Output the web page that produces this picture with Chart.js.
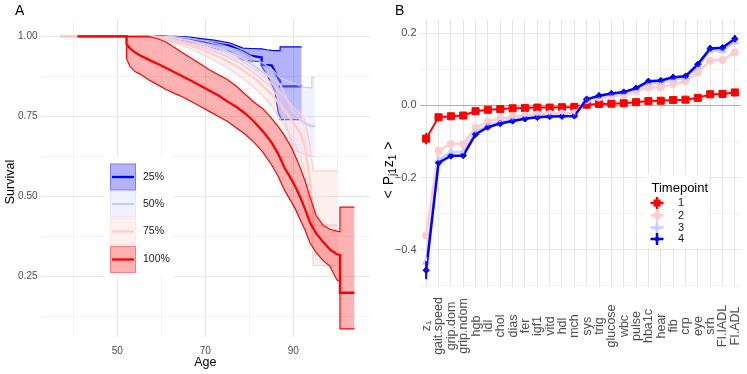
<!DOCTYPE html>
<html>
<head>
<meta charset="utf-8">
<script src="https://cdn.jsdelivr.net/npm/chart.js@4.4.1/dist/chart.umd.min.js"></script>
<style>
  html, body { margin: 0; padding: 0; background: #fff; }
  #wrap { position: relative; width: 747px; height: 374px; }
  canvas { position: absolute; top: 0; }
  #chartA { left: 0; }
  #chartB { left: 373px; }
</style>
</head>
<body>
<div id="wrap">
  <canvas id="chartA" width="373" height="374"></canvas>
  <canvas id="chartB" width="374" height="374"></canvas>
</div>
<script>
var FONT = 'Liberation Sans, Arial, sans-serif';

// ---- panel A : survival curves by group ----
var groupNames = ['25%', '50%', '75%', '100%'];
var groupColors = ['#0000ff', '#ccccff', '#ffcccc', '#ff0000'];
var groupFills = ['rgba(0,0,255,0.3)', 'rgba(204,204,255,0.3)', 'rgba(255,204,204,0.3)', 'rgba(255,0,0,0.3)'];

var age25 = [41, 60, 63, 66, 69, 72, 75.6, 78.6, 80.2, 82.8, 82.8, 84, 85.1, 85.8, 86.6, 87, 87, 91.9];
var surv25 = [1, 1, 0.996, 0.992, 0.985, 0.978, 0.97, 0.952, 0.94, 0.934, 0.911, 0.91, 0.909, 0.89, 0.87, 0.86, 0.844, 0.844];
var low25 = [1, 0.998, 0.993, 0.985, 0.975, 0.963, 0.952, 0.926, 0.923, 0.921, 0.906, 0.88, 0.85, 0.83, 0.76, 0.75, 0.74, 0.74];
var high25 = [1, 1, 1, 0.998, 0.993, 0.988, 0.979, 0.963, 0.962, 0.961, 0.961, 0.958, 0.956, 0.955, 0.955, 0.955, 0.967, 0.967];

var age50 = [37, 58, 62, 66, 70, 74, 78, 82, 85, 87, 88, 90, 92, 93.2, 94.2, 94.2, 94.9];
var surv50 = [1, 1, 0.996, 0.988, 0.975, 0.958, 0.935, 0.9, 0.87, 0.85, 0.82, 0.765, 0.735, 0.725, 0.72, 0.72, 0.72];
var low50 = [1, 1, 0.992, 0.98, 0.963, 0.942, 0.915, 0.875, 0.84, 0.80, 0.74, 0.645, 0.635, 0.63, 0.625, 0.625, 0.625];
var high50 = [1, 1, 1, 0.995, 0.985, 0.972, 0.955, 0.925, 0.9, 0.87, 0.865, 0.855, 0.842, 0.84, 0.84, 0.872, 0.872];

var age75 = [37, 58, 62, 66, 70, 74, 78, 82, 85, 88, 90, 91.5, 92.6, 93.8, 94.5, 94.5, 100];
var surv75 = [1, 1, 0.99, 0.975, 0.955, 0.93, 0.9, 0.86, 0.82, 0.77, 0.73, 0.70, 0.66, 0.55, 0.45, 0.41, 0.41];
var low75 = [1, 1, 0.985, 0.965, 0.94, 0.91, 0.875, 0.83, 0.785, 0.72, 0.67, 0.63, 0.58, 0.45, 0.34, 0.285, 0.285];
var high75 = [1, 1, 0.997, 0.987, 0.97, 0.95, 0.925, 0.89, 0.855, 0.81, 0.78, 0.76, 0.74, 0.66, 0.58, 0.58, 0.58];

var age100 = [41, 52.1, 52.1, 52.9, 54, 55.2, 57, 59, 61, 63, 65, 67, 69, 71, 73, 75, 77, 79, 81, 83, 85, 86.5, 88, 89.5, 90.5, 91.5, 92.7, 93.8, 95.2, 96.8, 98.3, 99.9, 100.6, 100.6, 103.9];
var surv100 = [1, 1, 0.975, 0.962, 0.95, 0.94, 0.928, 0.915, 0.902, 0.888, 0.874, 0.86, 0.845, 0.83, 0.815, 0.797, 0.78, 0.76, 0.735, 0.705, 0.67, 0.635, 0.59, 0.555, 0.53, 0.5, 0.46, 0.418, 0.385, 0.358, 0.335, 0.32, 0.318, 0.2, 0.2];
var low100 = [1, 1, 0.93, 0.905, 0.89, 0.882, 0.865, 0.85, 0.835, 0.822, 0.81, 0.795, 0.78, 0.765, 0.75, 0.735, 0.715, 0.695, 0.67, 0.64, 0.6, 0.565, 0.52, 0.485, 0.46, 0.43, 0.395, 0.355, 0.325, 0.3, 0.283, 0.24, 0.235, 0.087, 0.087];
var high100 = [1, 1, 1, 1, 1, 1, 1, 0.993, 0.983, 0.965, 0.947, 0.93, 0.913, 0.895, 0.88, 0.865, 0.845, 0.82, 0.795, 0.775, 0.745, 0.72, 0.69, 0.655, 0.625, 0.592, 0.548, 0.499, 0.44, 0.41, 0.398, 0.392, 0.39, 0.467, 0.467];

var ageTicks = [40, 50, 60, 70, 80, 90, 100];
var ageLabels = [50, 70, 90];
var survTicks = [0.125, 0.25, 0.375, 0.5, 0.625, 0.75, 0.875, 1];
var survLabels = [0.25, 0.5, 0.75, 1];

// ---- panel B : <Pj1 z1> per variable and timepoint ----
var categories = ['z\u2081', 'gait.speed', 'grip.dom', 'grip.ndom', 'hgb', 'ldl', 'chol', 'dias', 'fer', 'igf1', 'vitd', 'hdl', 'mch', 'sys', 'trig', 'glucose', 'wbc', 'pulse', 'hba1c', 'hear', 'fib', 'crp', 'eye', 'srh', 'FI.IADL', 'FI.ADL'];
var tp1 = [-0.092, -0.033, -0.030, -0.028, -0.016, -0.012, -0.010, -0.008, -0.007, -0.006, -0.006, -0.005, -0.004, 0.002, 0.004, 0.005, 0.006, 0.009, 0.012, 0.013, 0.015, 0.016, 0.021, 0.031, 0.032, 0.036];
var tp2 = [-0.36, -0.126, -0.107, -0.107, -0.062, -0.045, -0.037, -0.031, -0.028, -0.025, -0.023, -0.022, -0.021, 0.015, 0.022, 0.026, 0.029, 0.039, 0.050, 0.050, 0.059, 0.067, 0.091, 0.124, 0.126, 0.147];
var tp3 = [-0.434, -0.152, -0.129, -0.129, -0.073, -0.056, -0.046, -0.039, -0.034, -0.031, -0.029, -0.028, -0.027, 0.017, 0.025, 0.031, 0.035, 0.045, 0.061, 0.063, 0.072, 0.077, 0.107, 0.154, 0.152, 0.177];
var tp4 = [-0.457, -0.159, -0.140, -0.139, -0.080, -0.060, -0.050, -0.043, -0.037, -0.033, -0.031, -0.030, -0.029, 0.017, 0.027, 0.033, 0.037, 0.048, 0.067, 0.069, 0.078, 0.081, 0.114, 0.158, 0.160, 0.185];
var err1 = [0.016, 0.004, 0.003, 0.003, 0.003, 0.002, 0.002, 0.002, 0.002, 0.002, 0.002, 0.002, 0.002, 0.002, 0.002, 0.002, 0.002, 0.002, 0.002, 0.002, 0.002, 0.002, 0.003, 0.003, 0.003, 0.004];
var err2 = [0.012, 0.005, 0.004, 0.004, 0.004, 0.003, 0.003, 0.003, 0.003, 0.003, 0.003, 0.003, 0.003, 0.003, 0.003, 0.003, 0.003, 0.003, 0.004, 0.004, 0.004, 0.004, 0.005, 0.006, 0.006, 0.007];
var err3 = [0.014, 0.005, 0.005, 0.005, 0.004, 0.004, 0.004, 0.004, 0.004, 0.004, 0.004, 0.004, 0.004, 0.004, 0.004, 0.004, 0.004, 0.004, 0.005, 0.005, 0.005, 0.005, 0.006, 0.007, 0.007, 0.008];
var err4 = [0.025, 0.006, 0.006, 0.006, 0.005, 0.004, 0.004, 0.004, 0.004, 0.004, 0.004, 0.004, 0.004, 0.005, 0.005, 0.005, 0.005, 0.005, 0.005, 0.005, 0.006, 0.006, 0.007, 0.008, 0.008, 0.010];
var tpNames = ['1', '2', '3', '4'];
var tpColors = ['#ff0000', '#ffcccc', '#ccccff', '#0000ff'];
var tpShapes = ['rect', 'circle', 'triangle', 'rectRot'];
var tpRadius = [5, 3.6, 4.5, 3.2];
var yTicksB = [-0.5, -0.4, -0.3, -0.2, -0.1, 0, 0.1, 0.2];
var yLabelsB = [-0.4, -0.2, 0, 0.2];

var MAJOR = '#e6e6e6', MINOR = '#f2f2f2';

function hasVal(list, v) {
  for (var i = 0; i < list.length; i++) if (Math.abs(list[i] - v) < 1e-9) return true;
  return false;
}

// ---------- chart A ----------
var datasetsA = [];
function addGroup(ages, mid, low, high, k) {
  var pts = function(arr) { return ages.map(function(a, i) { return { x: a, y: arr[i] }; }); };
  var base = datasetsA.length;
  datasetsA.push({ data: pts(low), borderColor: groupColors[k], borderWidth: 1.2, fill: false, order: 100 - base });
  datasetsA.push({ data: pts(high), borderColor: groupColors[k], borderWidth: 1.2, backgroundColor: groupFills[k], fill: { target: base }, order: 99 - base });
  datasetsA.push({ data: pts(mid), borderColor: groupColors[k], borderWidth: 2.3, fill: false, order: 98 - base });
}
addGroup(age25, surv25, low25, high25, 0);
addGroup(age50, surv50, low50, high50, 1);
addGroup(age75, surv75, low75, high75, 2);
addGroup(age100, surv100, low100, high100, 3);

var panelA = {
  id: 'panelA',
  afterDraw: function(chart) {
    var ctx = chart.ctx;
    ctx.save();
    // panel letter
    ctx.fillStyle = '#000';
    ctx.font = '14px ' + FONT;
    ctx.textBaseline = 'alphabetic';
    ctx.fillText('A', 15, 15);
    // axis titles
    ctx.font = '12.5px ' + FONT;
    ctx.textAlign = 'center';
    ctx.fillText('Age', 205.3, 366);
    ctx.save();
    ctx.translate(13.5, 182);
    ctx.rotate(-Math.PI / 2);
    ctx.fillText('Survival', 0, 0);
    ctx.restore();
    // legend
    ctx.fillStyle = '#fff';
    ctx.fillRect(105, 155, 68, 122);
    var tops = [163.5, 190.5, 218, 246];
    var h = 27;
    for (var i = 0; i < 4; i++) {
      ctx.fillStyle = groupFills[i];
      ctx.fillRect(110, tops[i], 26, h);
      ctx.strokeStyle = groupFills[i];
      ctx.lineWidth = 1;
      ctx.strokeRect(110.5, tops[i] + 0.5, 25, h - 1);
      ctx.strokeStyle = groupColors[i];
      ctx.lineWidth = 2.3;
      ctx.beginPath();
      ctx.moveTo(112, tops[i] + h / 2);
      ctx.lineTo(134, tops[i] + h / 2);
      ctx.stroke();
      ctx.fillStyle = '#1a1a1a';
      ctx.font = '10.5px ' + FONT;
      ctx.textAlign = 'left';
      ctx.textBaseline = 'middle';
      ctx.fillText(groupNames[i], 143, tops[i] + h / 2);
    }
    ctx.restore();
  }
};

new Chart(document.getElementById('chartA'), {
  type: 'line',
  data: { datasets: datasetsA },
  options: {
    responsive: false,
    animation: false,
    devicePixelRatio: 1,
    layout: { padding: { top: 19.5, right: 3, left: 0, bottom: 0 } },
    elements: { point: { radius: 0, hoverRadius: 0 }, line: { tension: 0 } },
    plugins: { legend: { display: false }, tooltip: { enabled: false } },
    scales: {
      x: {
        type: 'linear', min: 32.55, max: 107.43,
        afterBuildTicks: function(s) { s.ticks = ageTicks.map(function(v) { return { value: v }; }); },
        afterFit: function(s) { s.height = 37; },
        border: { display: false },
        grid: { drawTicks: false, lineWidth: 1, color: function(c) { return c.tick && hasVal(ageLabels, c.tick.value) ? MAJOR : MINOR; } },
        ticks: { autoSkip: false, maxRotation: 0, padding: 8, color: '#4d4d4d', font: { family: FONT, size: 10 },
          callback: function(v) { return hasVal(ageLabels, v) ? String(v) : ''; } }
      },
      y: {
        min: 0.0619, max: 1.0524,
        afterBuildTicks: function(s) { s.ticks = survTicks.map(function(v) { return { value: v }; }); },
        afterFit: function(s) { s.width = 40.5; },
        border: { display: false },
        grid: { drawTicks: false, lineWidth: 1, color: function(c) { return c.tick && hasVal(survLabels, c.tick.value) ? MAJOR : MINOR; } },
        ticks: { autoSkip: false, padding: 3, color: '#4d4d4d', font: { family: FONT, size: 10 },
          callback: function(v) { return hasVal(survLabels, v) ? v.toFixed(2) : ''; } }
      }
    }
  },
  plugins: [panelA]
});

// ---------- chart B ----------
var seriesB = [tp1, tp2, tp3, tp4];
var errB = [err1, err2, err3, err4];
var datasetsB = seriesB.map(function(s, i) {
  return {
    label: tpNames[i], data: s,
    borderColor: tpColors[i], backgroundColor: tpColors[i],
    borderWidth: i === 0 ? 2 : 2.5,
    pointStyle: tpShapes[i], pointRadius: tpRadius[i], pointHoverRadius: tpRadius[i],
    pointBorderWidth: 1, pointBorderColor: tpColors[i], pointBackgroundColor: tpColors[i],
    fill: false, order: 3 - i
  };
});

function drawMarker(ctx, style, x, y, r) {
  ctx.beginPath();
  if (style === 'rect') {
    var s = r * Math.SQRT1_2;
    ctx.rect(x - s, y - s, 2 * s, 2 * s);
  } else if (style === 'circle') {
    ctx.arc(x, y, r, 0, Math.PI * 2);
  } else if (style === 'triangle') {
    ctx.moveTo(x, y - r);
    ctx.lineTo(x + r * 0.866, y + r * 0.5);
    ctx.lineTo(x - r * 0.866, y + r * 0.5);
    ctx.closePath();
  } else {
    ctx.moveTo(x, y - r); ctx.lineTo(x + r, y); ctx.lineTo(x, y + r); ctx.lineTo(x - r, y);
    ctx.closePath();
  }
  ctx.fill();
}

var panelB = {
  id: 'panelB',
  afterDatasetsDraw: function(chart) {
    // error bars
    var ctx = chart.ctx, ys = chart.scales.y;
    ctx.save();
    for (var i = 0; i < seriesB.length; i++) {
      var meta = chart.getDatasetMeta(i);
      ctx.strokeStyle = tpColors[i];
      ctx.lineWidth = 2;
      for (var j = 0; j < meta.data.length; j++) {
        var x = meta.data[j].x;
        ctx.beginPath();
        ctx.moveTo(x, ys.getPixelForValue(seriesB[i][j] - errB[i][j]));
        ctx.lineTo(x, ys.getPixelForValue(seriesB[i][j] + errB[i][j]));
        ctx.stroke();
      }
    }
    ctx.restore();
  },
  afterDraw: function(chart) {
    var ctx = chart.ctx, xs = chart.scales.x;
    ctx.save();
    ctx.fillStyle = '#000';
    ctx.font = '14px ' + FONT;
    ctx.textAlign = 'left';
    ctx.textBaseline = 'alphabetic';
    ctx.fillText('B', 22, 15);

    // category labels, rotated and centred
    ctx.fillStyle = '#4d4d4d';
    ctx.font = '12.5px ' + FONT;
    ctx.textAlign = 'center';
    ctx.textBaseline = 'middle';
    categories.forEach(function(c, i) {
      ctx.save();
      ctx.translate(xs.getPixelForValue(i) + 0.5, 326);
      ctx.rotate(-Math.PI / 2);
      ctx.fillText(c, 0, 0);
      ctx.restore();
    });

    // y title  <P j1 z 1>
    ctx.save();
    ctx.translate(15, 170);
    ctx.rotate(-Math.PI / 2);
    ctx.fillStyle = '#000';
    ctx.textAlign = 'left';
    ctx.textBaseline = 'alphabetic';
    var big = '14px ' + FONT, small = '10px ' + FONT;
    var parts = [['<', big, 0, 5], ['P', big, 0, 0], ['j1', small, 3, 1], ['z', big, 0, 0], ['1', small, 3, 5], ['>', big, 0, 0]];
    var total = 0;
    parts.forEach(function(p) { ctx.font = p[1]; total += ctx.measureText(p[0]).width + p[3]; });
    var px = -total / 2;
    parts.forEach(function(p) { ctx.font = p[1]; ctx.fillText(p[0], px, 5 + p[2]); px += ctx.measureText(p[0]).width + p[3]; });
    ctx.restore();

    // legend
    ctx.fillStyle = '#fff';
    ctx.fillRect(272, 174, 62, 74);
    ctx.fillStyle = '#000';
    ctx.font = '13px ' + FONT;
    ctx.textAlign = 'left';
    ctx.textBaseline = 'alphabetic';
    ctx.fillText('Timepoint', 278.5, 191.5);
    var rows = [203, 215.5, 227.5, 239];
    for (var i = 0; i < 4; i++) {
      var cx = 284, cy = rows[i];
      ctx.strokeStyle = tpColors[i];
      ctx.fillStyle = tpColors[i];
      ctx.lineWidth = 2.5;
      ctx.beginPath();
      ctx.moveTo(277.5, cy); ctx.lineTo(290.5, cy);
      ctx.moveTo(cx, cy - 6); ctx.lineTo(cx, cy + 6);
      ctx.stroke();
      drawMarker(ctx, tpShapes[i], cx, cy, tpRadius[i]);
      ctx.fillStyle = '#1a1a1a';
      ctx.font = '11px ' + FONT;
      ctx.textBaseline = 'middle';
      ctx.fillText(tpNames[i], 305, cy);
      ctx.textBaseline = 'alphabetic';
    }
    ctx.restore();
  }
};

new Chart(document.getElementById('chartB'), {
  type: 'line',
  data: { labels: categories, datasets: datasetsB },
  options: {
    responsive: false,
    animation: false,
    devicePixelRatio: 1,
    layout: { padding: { top: 20, right: 4, left: 0, bottom: 0 } },
    elements: { line: { tension: 0 } },
    plugins: { legend: { display: false }, tooltip: { enabled: false } },
    scales: {
      x: {
        type: 'category', offset: true,
        afterFit: function(s) { s.height = 87.3; },
        border: { display: false },
        grid: { offset: false, drawTicks: false, color: MAJOR, lineWidth: 1 },
        ticks: { display: false, autoSkip: false }
      },
      y: {
        min: -0.5026, max: 0.2369,
        afterBuildTicks: function(s) { s.ticks = yTicksB.map(function(v) { return { value: v }; }); },
        afterFit: function(s) { s.width = 47; },
        border: { display: false },
        grid: { drawTicks: false, lineWidth: 1, color: function(c) {
          if (!c.tick) return MINOR;
          if (Math.abs(c.tick.value) < 1e-9) return '#adadad';
          return hasVal(yLabelsB, c.tick.value) ? MAJOR : MINOR;
        } },
        ticks: { autoSkip: false, padding: 3.5, color: '#4d4d4d', font: { family: FONT, size: 11 },
          callback: function(v) { return hasVal(yLabelsB, v) ? v.toFixed(1).replace('-', '\u2212') : ''; } }
      }
    }
  },
  plugins: [panelB]
});
</script>
</body>
</html>
